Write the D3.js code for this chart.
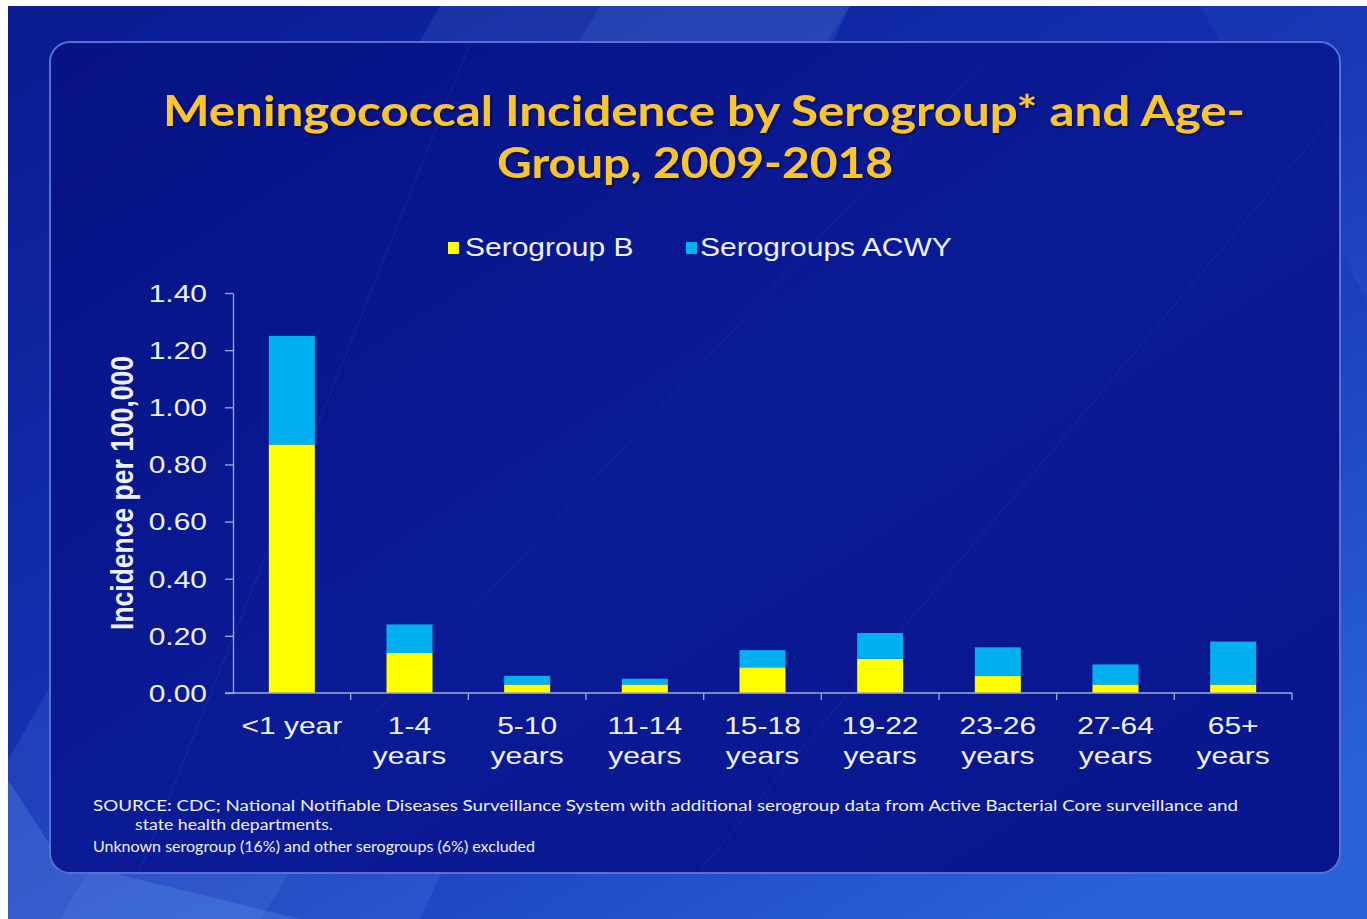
<!DOCTYPE html>
<html>
<head>
<meta charset="utf-8">
<script src="https://cdn.jsdelivr.net/npm/d3@7/dist/d3.min.js"></script>
<style>
  html, body { margin: 0; padding: 0; background: #ffffff; }
  svg { display: block; }
</style>
</head>
<body>
<svg id="chart" width="1367" height="919"></svg>
<script>
// Meningococcal incidence (per 100,000) by serogroup and age group, 2009-2018
const categories = ["<1 year", "1-4 years", "5-10 years", "11-14 years", "15-18 years",
                    "19-22 years", "23-26 years", "27-64 years", "65+ years"];
const serogroupB     = [0.87, 0.14, 0.03, 0.03, 0.09, 0.12, 0.06, 0.03, 0.03];
const serogroupsACWY = [0.38, 0.10, 0.03, 0.02, 0.06, 0.09, 0.10, 0.07, 0.15];
const seriesNames = ["Serogroup B", "Serogroups ACWY"];
const yTicks = [0, 0.2, 0.4, 0.6, 0.8, 1.0, 1.2, 1.4];

const titleLines = ["Meningococcal Incidence by Serogroup* and Age-", "Group, 2009-2018"];
const yTitle = "Incidence per 100,000";
const notes = [
  "SOURCE: CDC; National Notifiable Diseases Surveillance System with additional serogroup data from Active Bacterial Core surveillance and",
  "state health departments.",
  "Unknown serogroup (16%) and other serogroups (6%) excluded"
];

const colors = { b: "#ffff00", acwy: "#00b0f0" };
const textColor = "#eef0fa";
const axisColor = "#a3a9d8";
const SX = 1.25; // horizontal stretch of the slide text

const svg = d3.select("#chart");
const W = 1367, H = 919;

// ---------- background ----------
const defs = svg.append("defs");
const bgGrad = defs.append("linearGradient").attr("id", "bg")
  .attr("x1", 0).attr("y1", 0).attr("x2", 0.8).attr("y2", 1);
bgGrad.append("stop").attr("offset", 0).attr("stop-color", "#0a1a90");
bgGrad.append("stop").attr("offset", 0.55).attr("stop-color", "#1533b4");
bgGrad.append("stop").attr("offset", 1).attr("stop-color", "#2a62da");

const panelGrad = defs.append("linearGradient").attr("id", "panel")
  .attr("x1", 0).attr("y1", 0).attr("x2", 1).attr("y2", 1);
panelGrad.append("stop").attr("offset", 0).attr("stop-color", "#061284");
panelGrad.append("stop").attr("offset", 0.5).attr("stop-color", "#0b1b96");
panelGrad.append("stop").attr("offset", 1).attr("stop-color", "#08168c");

const shadow = defs.append("filter").attr("id", "tshadow")
  .attr("x", "-5%").attr("y", "-20%").attr("width", "110%").attr("height", "140%");
shadow.append("feDropShadow").attr("dx", 1.5).attr("dy", 1.5).attr("stdDeviation", 1)
  .attr("flood-color", "#000033").attr("flood-opacity", 0.7);

svg.append("rect").attr("x", 0).attr("y", 0).attr("width", W).attr("height", H).attr("fill", "#ffffff");
svg.append("rect").attr("x", 8).attr("y", 6).attr("width", W - 8).attr("height", H - 6).attr("fill", "url(#bg)");

// light diagonal streaks behind the panel
const streaks = [
  { pts: [[440, 6], [850, 6], [420, 919], [8, 919], [8, 760]], op: 0.12 },
  { pts: [[600, 6], [850, 6], [260, 919], [60, 919]], op: 0.10 },
  { pts: [[8, 919], [8, 780], [60, 860], [300, 919]], op: 0.20 },
  { pts: [[1200, 6], [1367, 6], [1367, 300]], op: 0.06 }
];
svg.selectAll("polygon.streak").data(streaks).join("polygon")
  .attr("class", "streak")
  .attr("points", d => d.pts.map(p => p.join(",")).join(" "))
  .attr("fill", "#7fb2ff").attr("opacity", d => d.op);

// content panel
svg.append("rect").attr("x", 50).attr("y", 42).attr("width", 1290).attr("height", 831)
  .attr("rx", 20).attr("ry", 20)
  .attr("fill", "url(#panel)").attr("stroke", "#5a6fd6").attr("stroke-width", 2);

// faint diagonal highlights inside the panel
const panelLines = [
  [[140, 870], [470, 44]],
  [[230, 870], [1000, 44]],
  [[700, 870], [1330, 120]]
];
svg.selectAll("line.pl").data(panelLines).join("line")
  .attr("class", "pl")
  .attr("x1", d => d[0][0]).attr("y1", d => d[0][1])
  .attr("x2", d => d[1][0]).attr("y2", d => d[1][1])
  .attr("stroke", "#4a62d0").attr("stroke-width", 1).attr("opacity", 0.18);

// ---------- title ----------
const titleG = svg.append("g").attr("filter", "url(#tshadow)");
titleG.append("text")
  .attr("x", 163).attr("y", 126)
  .attr("textLength", 1082).attr("lengthAdjust", "spacingAndGlyphs")
  .attr("font-family", "Lato, 'Open Sans', sans-serif").attr("font-weight", 700)
  .attr("font-size", 42).attr("fill", "#f8c52e")
  .text(titleLines[0]);
titleG.append("text")
  .attr("x", 497).attr("y", 178)
  .attr("textLength", 396).attr("lengthAdjust", "spacingAndGlyphs")
  .attr("font-family", "Lato, 'Open Sans', sans-serif").attr("font-weight", 700)
  .attr("font-size", 42).attr("fill", "#f8c52e")
  .text(titleLines[1]);

// ---------- scales ----------
const plotLeft = 233, plotRight = 1292, plotTop = 293, plotBottom = 693;
const x = d3.scaleBand().domain(categories).range([plotLeft, plotRight])
  .paddingInner(0.609).paddingOuter(0.3045);
const y = d3.scaleLinear().domain([0, 1.4]).range([plotBottom, plotTop]);

const rows = categories.map((c, i) => ({ category: c, b: serogroupB[i], acwy: serogroupsACWY[i] }));
const stack = d3.stack().keys(["b", "acwy"]);
const layers = stack(rows);

// ---------- bars ----------
svg.append("g").selectAll("g").data(layers).join("g")
  .attr("fill", d => colors[d.key])
  .selectAll("rect").data(d => d).join("rect")
  .attr("x", d => x(d.data.category))
  .attr("width", x.bandwidth())
  .attr("y", d => y(d[1]))
  .attr("height", d => y(d[0]) - y(d[1]));

// ---------- y axis ----------
const yAxis = svg.append("g").attr("transform", `translate(${plotLeft},0)`)
  .call(d3.axisLeft(y).tickValues(yTicks).tickSize(8).tickSizeOuter(0).tickFormat(d3.format(".2f")));
yAxis.select(".domain").attr("stroke", axisColor).attr("stroke-width", 1.3);
yAxis.selectAll(".tick line").attr("stroke", axisColor).attr("stroke-width", 1.3);
yAxis.selectAll(".tick text")
  .attr("x", -26 / SX).attr("dy", "0.35em")
  .attr("transform", `scale(${SX},1)`)
  .attr("font-family", "'Liberation Sans', Arial, sans-serif")
  .attr("font-size", 24).attr("fill", textColor);

// ---------- x axis ----------
const xAxis = svg.append("g").attr("transform", `translate(0,${plotBottom})`)
  .call(d3.axisBottom(x).tickSize(0).tickSizeOuter(0));
xAxis.select(".domain").remove();
xAxis.append("line")
  .attr("x1", plotLeft - 8).attr("x2", plotRight)
  .attr("y1", 0).attr("y2", 0)
  .attr("stroke", axisColor).attr("stroke-width", 1.3);
// tick marks between age groups
const step = x.step();
const boundaries = categories.map((c, i) => x(c) + x.bandwidth() + (step - x.bandwidth()) / 2);
xAxis.selectAll("line.bnd").data(boundaries).join("line")
  .attr("class", "bnd")
  .attr("x1", d => d).attr("x2", d => d)
  .attr("y1", 0).attr("y2", 7)
  .attr("stroke", axisColor).attr("stroke-width", 1.3);

xAxis.selectAll(".tick text").each(function (d) {
  const t = d3.select(this);
  const lines = d.startsWith("<") ? [d] : d.split(" ");
  t.text(null)
    .attr("y", 0).attr("dy", null)
    .attr("transform", `scale(${SX},1)`)
    .attr("font-family", "'Liberation Sans', Arial, sans-serif")
    .attr("font-size", 24).attr("fill", textColor);
  lines.forEach((ln, i) => {
    t.append("tspan").attr("x", 0).attr("y", 41 + i * 30).text(ln);
  });
});

// ---------- y axis title ----------
svg.append("text")
  .attr("transform", `translate(133,493) rotate(-90) scale(1,1.15)`)
  .attr("text-anchor", "middle")
  .attr("font-family", "'Liberation Sans', Arial, sans-serif").attr("font-weight", 700)
  .attr("font-size", 26.5).attr("fill", textColor)
  .text(yTitle);

// ---------- legend ----------
const legendX = [448, 686];
const legend = svg.append("g").selectAll("g").data(seriesNames).join("g")
  .attr("transform", (d, i) => `translate(${legendX[i]},0)`);
legend.append("rect").attr("x", 0).attr("y", 242).attr("width", 11).attr("height", 12)
  .attr("fill", (d, i) => i === 0 ? colors.b : colors.acwy);
legend.append("text")
  .attr("x", (d, i) => (i === 0 ? 17 : 14) / 1.2).attr("y", 256)
  .attr("transform", "scale(1.2,1)")
  .attr("font-family", "'Liberation Sans', Arial, sans-serif")
  .attr("font-size", 25).attr("fill", textColor)
  .text(d => d);

// ---------- footnotes ----------
const noteX = [93, 135, 93];
const noteY = [811, 830, 852];
const noteLen = [1145, 198, 442];
svg.append("g").selectAll("text").data(notes).join("text")
  .attr("x", (d, i) => noteX[i]).attr("y", (d, i) => noteY[i])
  .attr("textLength", (d, i) => noteLen[i]).attr("lengthAdjust", "spacingAndGlyphs")
  .attr("font-family", "Lato, 'Open Sans', sans-serif")
  .attr("font-size", 15.5).attr("fill", textColor)
  .text(d => d);
</script>
</body>
</html>
